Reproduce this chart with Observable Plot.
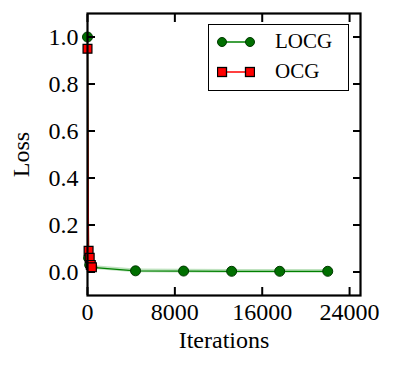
<!DOCTYPE html>
<html>
<head>
<meta charset="utf-8">
<script src="https://cdn.jsdelivr.net/npm/d3@7"></script>
<script src="https://cdn.jsdelivr.net/npm/@observablehq/plot@0.6"></script>
<style>
  html, body { margin: 0; padding: 0; background: #fff; }
  #wrap { position: relative; width: 396px; height: 374px; font-family: "Liberation Serif", "DejaVu Serif", serif; }
  #wrap svg text, #wrap svg g { font-family: "Liberation Serif", "DejaVu Serif", serif !important; font-variant: normal !important; }
  #legend { position: absolute; left: 208px; top: 24px; width: 139px; height: 65px; border: 1.5px solid #000; background: #fff; font-size: 21px; }
  .row { position: absolute; left: 8px; display: flex; align-items: center; }
  .row span { margin-left: 20px; }
</style>
</head>
<body>
<div id="wrap"></div>
<script>
// LOCG series
const itersLOCG = [0, 100, 200, 400, 4400, 8800, 13200, 17600, 22000];
const lossLOCG  = [1.0, 0.06, 0.03, 0.02, 0.005, 0.004, 0.003, 0.003, 0.003];
const lowLOCG   = [1.0, 0.0, 0.012, 0.012, -0.003, -0.004, -0.005, -0.005, -0.005];
const highLOCG  = [1.0, 0.7, 0.05, 0.028, 0.013, 0.012, 0.011, 0.011, 0.011];
// OCG series
const itersOCG = [0, 100, 200, 300, 400];
const lossOCG  = [0.95, 0.09, 0.06, 0.03, 0.02];
const lowOCG   = [0.95, 0.0, 0.03, 0.01, 0.01];
const highOCG  = [0.95, 0.27, 0.09, 0.05, 0.03];
// ticks
const xTicks = [0, 8000, 16000, 24000];
const yTicks = [0.0, 0.2, 0.4, 0.6, 0.8, 1.0];
const seriesNames = ["LOCG", "OCG"];

const locg = itersLOCG.map((x, i) => ({x, y: lossLOCG[i], lo: lowLOCG[i], hi: highLOCG[i]}));
const ocg = itersOCG.map((x, i) => ({x, y: lossOCG[i], lo: lowOCG[i], hi: highOCG[i]}));

const font = '"Liberation Serif", "DejaVu Serif", serif';
const chart = Plot.plot({
  width: 396,
  height: 374,
  marginLeft: 87,
  marginRight: 36,
  marginTop: 13,
  marginBottom: 79,
  style: {fontFamily: font, fontSize: "24px", color: "#000", background: "#fff"},
  x: {domain: [0, 25000]},
  y: {domain: [-0.1, 1.1]},
  marks: [
    Plot.areaY(locg, {x: "x", y1: "lo", y2: "hi", fill: "#2ca02c", fillOpacity: 0.3}),
    Plot.areaY(ocg, {x: "x", y1: "lo", y2: "hi", fill: "#c0704a", fillOpacity: 0.25}),
    Plot.line(locg, {x: "x", y: "y", stroke: "#008000", strokeWidth: 1.2}),
    Plot.dot(locg, {x: "x", y: "y", r: 5, fill: "#006f00", stroke: "#003800", strokeWidth: 1}),
    Plot.line(ocg, {x: "x", y: "y", stroke: "#ff0000", strokeWidth: 1.2}),
    Plot.dot(ocg, {x: "x", y: "y", symbol: "square", r: 5, fill: "#ff0000", stroke: "#000", strokeWidth: 1.2}),
    // inward ticks on all four sides
    Plot.axisX(xTicks, {anchor: "bottom", tickSize: -8, tickFormat: () => "", strokeWidth: 2, label: null}),
    Plot.axisX(xTicks, {anchor: "top", tickSize: -8, tickFormat: () => "", strokeWidth: 2, label: null}),
    Plot.axisY(yTicks, {anchor: "left", tickSize: -8, tickFormat: () => "", strokeWidth: 2, label: null}),
    Plot.axisY(yTicks, {anchor: "right", tickSize: -8, tickFormat: () => "", strokeWidth: 2, label: null}),
    // tick labels
    Plot.axisX(xTicks, {anchor: "bottom", tickSize: 0, tickPadding: 7, tickFormat: d => String(d), label: "Iterations", labelAnchor: "center", labelOffset: 52, labelArrow: "none", fontSize: 24, fontFamily: font, fontVariant: "normal"}),
    Plot.axisY(yTicks, {anchor: "left", tickSize: 0, tickPadding: 9, tickFormat: d => d.toFixed(1), label: "Loss", labelAnchor: "center", labelOffset: 76, labelArrow: "none", fontSize: 24, fontFamily: font, fontVariant: "normal"}),
    Plot.frame({stroke: "#000", strokeWidth: 2.2})
  ]
});

const wrap = document.getElementById("wrap");
wrap.appendChild(chart);

const legend = document.createElement("div");
legend.id = "legend";
const colors = [{line: "#008000", fill: "#006f00", stroke: "#003800", shape: "circle"}, {line: "#ff0000", fill: "#ff0000", stroke: "#000", shape: "square"}];
seriesNames.forEach((name, i) => {
  const c = colors[i];
  const row = document.createElement("div");
  row.className = "row";
  row.style.top = (i === 0 ? 4 : 34) + "px";
  const m = c.shape === "circle"
    ? `<circle cx="5" cy="10" r="4.5" fill="${c.fill}" stroke="${c.stroke}"/><circle cx="33" cy="10" r="4.5" fill="${c.fill}" stroke="${c.stroke}"/>`
    : `<rect x="0.5" y="5.5" width="9" height="9" fill="${c.fill}" stroke="${c.stroke}" stroke-width="1.3"/><rect x="28.5" y="5.5" width="9" height="9" fill="${c.fill}" stroke="${c.stroke}" stroke-width="1.3"/>`;
  row.innerHTML = `<svg width="38" height="20"><line x1="5" y1="10" x2="33" y2="10" stroke="${c.line}" stroke-width="1.5"/>${m}</svg><span>${name}</span>`;
  legend.appendChild(row);
});
wrap.appendChild(legend);
</script>
</body>
</html>
